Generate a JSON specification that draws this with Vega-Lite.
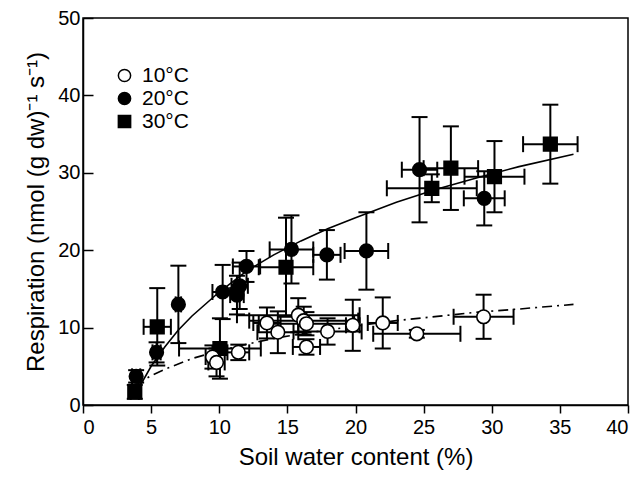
{
  "$schema": "https://vega.github.io/schema/vega-lite/v6.json",
  "width": 545,
  "height": 387,
  "autosize": {"type": "none"},
  "padding": {"left": 83, "top": 18, "right": 14, "bottom": 72},
  "background": "white",
  "config": {
    "view": {"stroke": "black", "strokeWidth": 1.5},
    "font": "Liberation Sans",
    "axis": {
      "grid": false,
      "domainColor": "black",
      "domainWidth": 1.5,
      "tickColor": "black",
      "tickWidth": 1.5,
      "labelColor": "black",
      "titleColor": "black",
      "labelFont": "Liberation Sans",
      "titleFont": "Liberation Sans",
      "labelFontSize": 20,
      "titleFontSize": 24,
      "titleFontWeight": "normal"
    },
    "legend": {"labelFont": "Liberation Sans", "labelFontSize": 21, "labelColor": "black"}
  },
  "datasets": {
    "pts": [
      {"temp": "20°C", "x": 3.9, "y": 3.7, "ex": 0.3, "ey": 0.8},
      {"temp": "20°C", "x": 5.4, "y": 6.8, "ex": 0.3, "ey": 1.3},
      {"temp": "20°C", "x": 7.0, "y": 13.0, "ex": 0.2, "ey": 5.0},
      {"temp": "20°C", "x": 10.25, "y": 14.6, "ex": 0.75, "ey": 3.5},
      {"temp": "20°C", "x": 11.3, "y": 14.2, "ex": 0.5, "ey": 2.5},
      {"temp": "20°C", "x": 11.5, "y": 15.4, "ex": 0.6, "ey": 3.0},
      {"temp": "20°C", "x": 12.0, "y": 17.9, "ex": 1.0, "ey": 2.0},
      {"temp": "20°C", "x": 15.3, "y": 20.1, "ex": 1.6, "ey": 4.4},
      {"temp": "20°C", "x": 17.9, "y": 19.4, "ex": 1.0, "ey": 3.2},
      {"temp": "20°C", "x": 20.8, "y": 19.9, "ex": 1.6, "ey": 5.0},
      {"temp": "20°C", "x": 24.7, "y": 30.4, "ex": 1.3, "ey": 6.8},
      {"temp": "20°C", "x": 29.45, "y": 26.7, "ex": 1.5, "ey": 3.5},
      {"temp": "30°C", "x": 3.8, "y": 1.7, "ex": 0.3, "ey": 0.9},
      {"temp": "30°C", "x": 5.45, "y": 10.1, "ex": 1.0, "ey": 5.0},
      {"temp": "30°C", "x": 10.05, "y": 7.3, "ex": 3.0, "ey": 3.9},
      {"temp": "30°C", "x": 14.9, "y": 17.8, "ex": 2.0, "ey": 6.4},
      {"temp": "30°C", "x": 25.6, "y": 28.0, "ex": 3.3, "ey": 1.8},
      {"temp": "30°C", "x": 27.0, "y": 30.6, "ex": 2.0, "ey": 5.4},
      {"temp": "30°C", "x": 30.2, "y": 29.5, "ex": 2.2, "ey": 4.6},
      {"temp": "30°C", "x": 34.3, "y": 33.7, "ex": 2.0, "ey": 5.1},
      {"temp": "10°C", "x": 9.5, "y": 6.2, "ex": 0.5, "ey": 1.5},
      {"temp": "10°C", "x": 9.8, "y": 5.5, "ex": 0.6, "ey": 1.8},
      {"temp": "10°C", "x": 11.4, "y": 6.8, "ex": 0.8, "ey": 1.0},
      {"temp": "10°C", "x": 13.5, "y": 10.6, "ex": 1.0, "ey": 2.0},
      {"temp": "10°C", "x": 14.3, "y": 9.4, "ex": 1.5, "ey": 2.7},
      {"temp": "10°C", "x": 15.8, "y": 11.6, "ex": 4.5, "ey": 2.2},
      {"temp": "10°C", "x": 16.2, "y": 10.9, "ex": 4.0, "ey": 1.8},
      {"temp": "10°C", "x": 16.4, "y": 10.5, "ex": 3.5, "ey": 1.5},
      {"temp": "10°C", "x": 16.4, "y": 7.5, "ex": 1.0, "ey": 1.0},
      {"temp": "10°C", "x": 17.95, "y": 9.5, "ex": 2.5, "ey": 1.7},
      {"temp": "10°C", "x": 19.8, "y": 10.3, "ex": 0.5, "ey": 3.3},
      {"temp": "10°C", "x": 22.0, "y": 10.6, "ex": 1.1, "ey": 3.3},
      {"temp": "10°C", "x": 24.5, "y": 9.2, "ex": 3.2, "ey": 0.5},
      {"temp": "10°C", "x": 29.4, "y": 11.4, "ex": 2.2, "ey": 2.85}
    ],
    "fitWarm": [
      {"x": 3.8, "y": 1.2}, {"x": 4, "y": 1.9}, {"x": 5, "y": 5.0}, {"x": 6, "y": 7.5},
      {"x": 7, "y": 9.7}, {"x": 8, "y": 11.5}, {"x": 10, "y": 14.6}, {"x": 12, "y": 17.3},
      {"x": 14, "y": 19.4}, {"x": 16, "y": 21.2}, {"x": 18, "y": 22.8}, {"x": 20, "y": 24.2},
      {"x": 23, "y": 26.2}, {"x": 26, "y": 27.9}, {"x": 29, "y": 29.4}, {"x": 32, "y": 30.8},
      {"x": 36, "y": 32.4}
    ],
    "fitCold": [
      {"x": 3.8, "y": 2.5}, {"x": 5, "y": 3.8}, {"x": 6, "y": 4.6}, {"x": 8, "y": 6.0},
      {"x": 10, "y": 7.0}, {"x": 12, "y": 7.85}, {"x": 14, "y": 8.6}, {"x": 16, "y": 9.2},
      {"x": 18, "y": 9.7}, {"x": 20, "y": 10.2}, {"x": 23, "y": 10.9}, {"x": 26, "y": 11.45},
      {"x": 29, "y": 12.0}, {"x": 32, "y": 12.4}, {"x": 36, "y": 13.0}
    ]
  },
  "encoding": {
    "x": {"field": "x", "type": "quantitative",
      "scale": {"domain": [0, 40], "nice": false},
      "axis": {"values": [0, 5, 10, 15, 20, 25, 30, 35, 40], "tickSize": 8, "labelPadding": 4,
        "title": "Soil water content (%)", "titlePadding": 8}},
    "y": {"field": "y", "type": "quantitative",
      "scale": {"domain": [0, 50], "nice": false},
      "axis": {"values": [0, 10, 20, 30, 40, 50], "tickSize": -10, "labelPadding": 13,
        "title": "Respiration (nmol (g dw)⁻¹ s⁻¹)", "titlePadding": 9}}
  },
  "layer": [
    {
      "data": {"name": "fitWarm"},
      "mark": {"type": "line", "color": "black", "strokeWidth": 1.6},
      "encoding": {}
    },
    {
      "data": {"name": "fitCold"},
      "mark": {"type": "line", "color": "black", "strokeWidth": 1.6, "strokeDash": [10, 5, 2, 5]},
      "encoding": {}
    },
    {
      "data": {"name": "pts"},
      "mark": {"type": "errorbar", "color": "black", "opacity": 1, "thickness": 2, "ticks": {"size": 16, "thickness": 2, "color": "black", "opacity": 1}, "rule": {"color": "black", "opacity": 1, "strokeWidth": 2}},
      "encoding": {"yError": {"field": "ey"}}
    },
    {
      "data": {"name": "pts"},
      "mark": {"type": "errorbar", "color": "black", "opacity": 1, "thickness": 2, "ticks": {"size": 16, "thickness": 2, "color": "black", "opacity": 1}, "rule": {"color": "black", "opacity": 1, "strokeWidth": 2}},
      "encoding": {"xError": {"field": "ex"}}
    },
    {
      "data": {"name": "pts"},
      "mark": {"type": "point", "filled": false, "stroke": "black", "strokeWidth": 1.6, "opacity": 1, "size": 185},
      "encoding": {
        "shape": {"field": "temp", "type": "nominal",
          "scale": {"domain": ["10°C", "20°C", "30°C"], "range": ["circle", "circle", "square"]},
          "legend": {"title": null, "orient": "none", "legendX": 31, "legendY": 47, "symbolSize": 150, "symbolStrokeWidth": 1.5, "rowPadding": 1, "labelOffset": 7}},
        "fill": {"field": "temp", "type": "nominal",
          "scale": {"domain": ["10°C", "20°C", "30°C"], "range": ["white", "black", "black"]},
          "legend": {"title": null, "orient": "none", "legendX": 31, "legendY": 47, "symbolSize": 150, "symbolStrokeWidth": 1.5, "rowPadding": 1, "labelOffset": 7}}
      }
    }
  ]
}
